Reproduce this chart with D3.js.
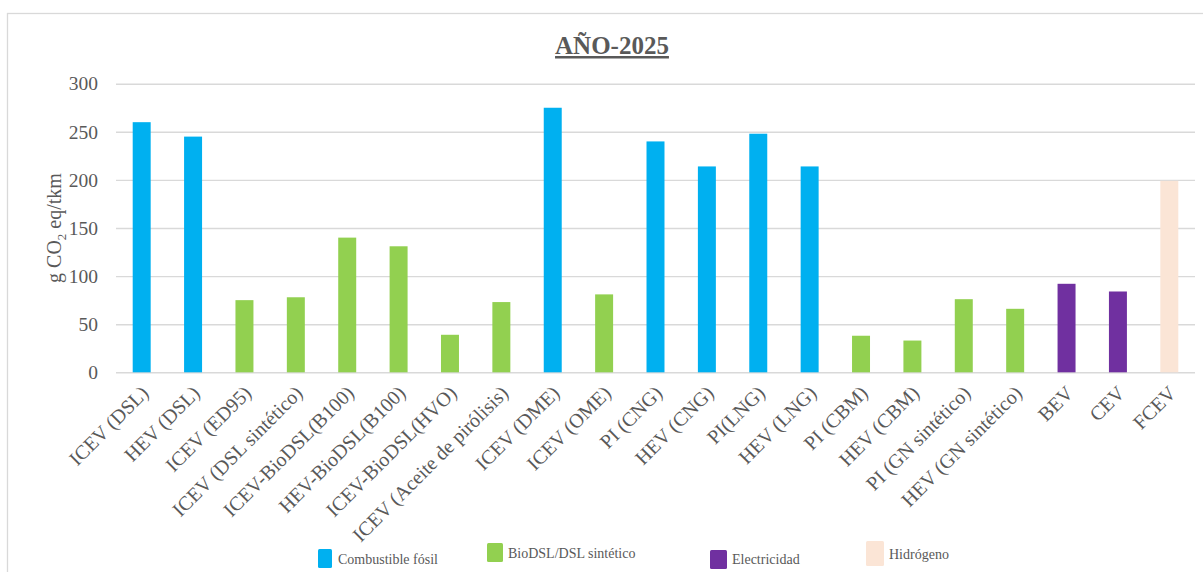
<!DOCTYPE html>
<html>
<head>
<meta charset="utf-8">
<script src="https://cdn.jsdelivr.net/npm/d3@7"></script>
<style>
  html, body { margin: 0; padding: 0; background: #ffffff; }
  svg { display: block; }
  text { font-family: "Liberation Serif", "Times New Roman", serif; fill: #595959; }
</style>
</head>
<body>
<svg id="chart" width="1203" height="572"></svg>
<script>
// Emissions per vehicle / fuel pathway, year 2025 (g CO2 eq/tkm)
const categories = [
  "ICEV (DSL)", "HEV (DSL)", "ICEV (ED95)", "ICEV (DSL sintético)",
  "ICEV-BioDSL(B100)", "HEV-BioDSL(B100)", "ICEV-BioDSL(HVO)",
  "ICEV (Aceite de pirólisis)", "ICEV (DME)", "ICEV (OME)",
  "PI (CNG)", "HEV (CNG)", "PI(LNG)", "HEV (LNG)", "PI (CBM)", "HEV (CBM)",
  "PI (GN sintético)", "HEV (GN sintético)", "BEV", "CEV", "FCEV"
];
const values = [260, 245, 75, 78, 140, 131, 39, 73, 275, 81,
                240, 214, 248, 214, 38, 33, 76, 66, 92, 84, 199];
// energy source group of each bar (index into groups)
const groupOf = [0, 0, 1, 1, 1, 1, 1, 1, 0, 1,
                 0, 0, 0, 0, 1, 1, 1, 1, 2, 2, 3];
const groups = ["Combustible fósil", "BioDSL/DSL sintético", "Electricidad", "Hidrógeno"];
const groupColors = ["#00B0F0", "#92D050", "#7030A0", "#FBE5D6"];
const yTicks = [0, 50, 100, 150, 200, 250, 300];
const title = "AÑO-2025";

const svg = d3.select("#chart");

// chart frame
svg.append("rect")
  .attr("x", 7.5).attr("y", 13.5)
  .attr("width", 1210).attr("height", 580)
  .attr("fill", "#ffffff")
  .attr("stroke", "#d9d9d9").attr("stroke-width", 1.3);

const plot = { left: 116, right: 1195, top: 83.7, bottom: 372.3 };

const x = d3.scaleBand()
  .domain(categories)
  .range([plot.left, plot.right])
  .paddingInner(0.65)
  .paddingOuter(0.325);

const y = d3.scaleLinear()
  .domain([0, 300])
  .range([plot.bottom, plot.top]);

const color = d3.scaleOrdinal().domain(groups).range(groupColors);

// horizontal gridlines + y labels
const yAxis = d3.axisLeft(y)
  .tickValues(yTicks)
  .tickSize(-(plot.right - plot.left))
  .tickPadding(18)
  .tickFormat(d3.format("d"));

const gy = svg.append("g")
  .attr("transform", `translate(${plot.left},0)`)
  .call(yAxis);
gy.select(".domain").remove();
gy.selectAll(".tick line").attr("stroke", "#d9d9d9").attr("stroke-width", 1.4);
gy.selectAll(".tick text")
  .attr("fill", "#595959")
  .style("font-family", '"Liberation Serif", "Times New Roman", serif')
  .style("font-size", "19.5px");

// bars
svg.append("g").selectAll("rect")
  .data(categories)
  .join("rect")
  .attr("x", d => x(d))
  .attr("width", x.bandwidth())
  .attr("y", (d, i) => y(values[i]))
  .attr("height", (d, i) => y(0) - y(values[i]))
  .attr("fill", (d, i) => color(groups[groupOf[i]]));

// category labels
const xAxis = d3.axisBottom(x).tickSize(0).tickPadding(0);
const gx = svg.append("g")
  .attr("transform", `translate(0,${plot.bottom})`)
  .call(xAxis);
gx.select(".domain").remove();
gx.selectAll(".tick text")
  .attr("fill", "#595959")
  .style("font-family", '"Liberation Serif", "Times New Roman", serif')
  .style("font-size", "20px")
  .attr("text-anchor", "end")
  .attr("dy", null)
  .attr("y", 0)
  .attr("transform", "translate(8,22) rotate(-45)");

// title
svg.append("text")
  .attr("x", 612).attr("y", 54)
  .attr("text-anchor", "middle")
  .style("font-size", "25px")
  .style("font-weight", "bold")
  .style("text-decoration", "underline")
  .text(title);

// y axis title
svg.append("text")
  .attr("transform", "translate(61,228) rotate(-90)")
  .attr("text-anchor", "middle")
  .style("font-size", "20px")
  .call(s => {
    s.append("tspan").text("g CO");
    s.append("tspan").attr("dy", 5).style("font-size", "13px").text("2");
    s.append("tspan").attr("dy", -5).text(" eq/tkm");
  });

// legend
const legendLayout = [
  { x: 318, y: 549, w: 14, h: 19, tx: 338, ty: 564 },
  { x: 487, y: 543, w: 16, h: 19, tx: 508, ty: 558 },
  { x: 710, y: 550, w: 17, h: 19, tx: 732, ty: 564 },
  { x: 866, y: 541, w: 18, h: 25, tx: 889, ty: 559 }
];
const lg = svg.append("g").selectAll("g")
  .data(groups)
  .join("g");
lg.append("rect")
  .attr("x", (d, i) => legendLayout[i].x)
  .attr("y", (d, i) => legendLayout[i].y)
  .attr("width", (d, i) => legendLayout[i].w)
  .attr("height", (d, i) => legendLayout[i].h)
  .attr("rx", 1.5)
  .attr("fill", d => color(d));
lg.append("text")
  .attr("x", (d, i) => legendLayout[i].tx)
  .attr("y", (d, i) => legendLayout[i].ty)
  .style("font-size", "14px")
  .attr("fill", "#3a3a3a")
  .text(d => d);
</script>
</body>
</html>
